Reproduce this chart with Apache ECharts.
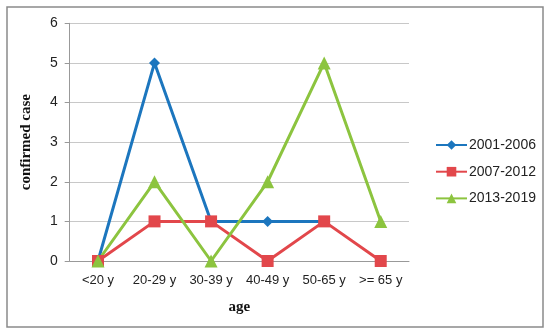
<!DOCTYPE html>
<html><head><meta charset="utf-8">
<script src="https://cdn.jsdelivr.net/npm/echarts@6/dist/echarts.min.js"></script>
<style>html,body{margin:0;padding:0;background:#fff}#c{width:550px;height:335px}</style>
</head><body><div id="c"></div>
<script>
const categories = ['<20 y', '20-29 y', '30-39 y', '40-49 y', '50-65 y', '>= 65 y'];
const s2001 = [0, 5, 1, 1, 1, null];
const s2007 = [0, 1, 1, 0, 1, 0];
const s2013 = [0, 2, 0, 2, 5, 1];
const seriesNames = ['2001-2006', '2007-2012', '2013-2019'];
const yTicks = [0, 1, 2, 3, 4, 5, 6];

const chart = echarts.init(document.getElementById('c'), null, {renderer: 'canvas'});
const font = '"Liberation Sans", Arial, sans-serif';
const serif = '"Liberation Serif", "Times New Roman", serif';
const colors = ['#1C76BE', '#E2474B', '#8CC43F'];
chart.setOption({
  animation: false,
  backgroundColor: '#fff',
  graphic: [{type: 'rect', shape: {x: 7, y: 7, width: 536, height: 320},
    style: {fill: 'none', stroke: '#8a8a8a', lineWidth: 1.5}}],
  grid: {left: 69.7, right: 141, top: 23.3, bottom: 74, containLabel: false},
  legend: {
    orient: 'vertical', left: 430, top: 133, itemGap: 12.7, itemWidth: 31, itemHeight: 12,
    textStyle: {fontFamily: font, fontSize: 14, color: '#222', padding: [0, 0, 0, -3]},
    data: seriesNames
  },
  xAxis: {
    type: 'category', data: categories, boundaryGap: true,
    name: 'age', nameLocation: 'middle', nameGap: 39,
    nameTextStyle: {fontFamily: serif, fontWeight: 'bold', fontSize: 15, color: '#111'},
    axisLine: {lineStyle: {color: '#999', width: 1}},
    axisTick: {show: false},
    axisLabel: {fontFamily: font, fontSize: 13, color: '#222', margin: 13}
  },
  yAxis: {
    type: 'value', min: yTicks[0], max: yTicks[yTicks.length - 1], interval: 1,
    name: 'confirmed case', nameLocation: 'middle', nameGap: 36, nameRotate: 90,
    nameTextStyle: {fontFamily: serif, fontWeight: 'bold', fontSize: 15, color: '#111'},
    axisLine: {show: true, lineStyle: {color: '#999', width: 1}},
    axisTick: {show: true, length: 5, lineStyle: {color: '#999'}},
    splitLine: {lineStyle: {color: '#c8c8c8', width: 1}},
    axisLabel: {fontFamily: font, fontSize: 14, color: '#222', margin: 12}
  },
  series: [
    {name: seriesNames[0], type: 'line', data: s2001, color: colors[0], symbol: 'diamond', symbolSize: 11,
      lineStyle: {width: 3}, itemStyle: {color: colors[0]}, connectNulls: false},
    {name: seriesNames[1], type: 'line', data: s2007, color: colors[1], symbol: 'rect', symbolSize: 12,
      lineStyle: {width: 3}, itemStyle: {color: colors[1]}},
    {name: seriesNames[2], type: 'line', data: s2013, color: colors[2], symbol: 'triangle', symbolSize: 13,
      lineStyle: {width: 3}, itemStyle: {color: colors[2]}}
  ]
});
</script></body></html>
